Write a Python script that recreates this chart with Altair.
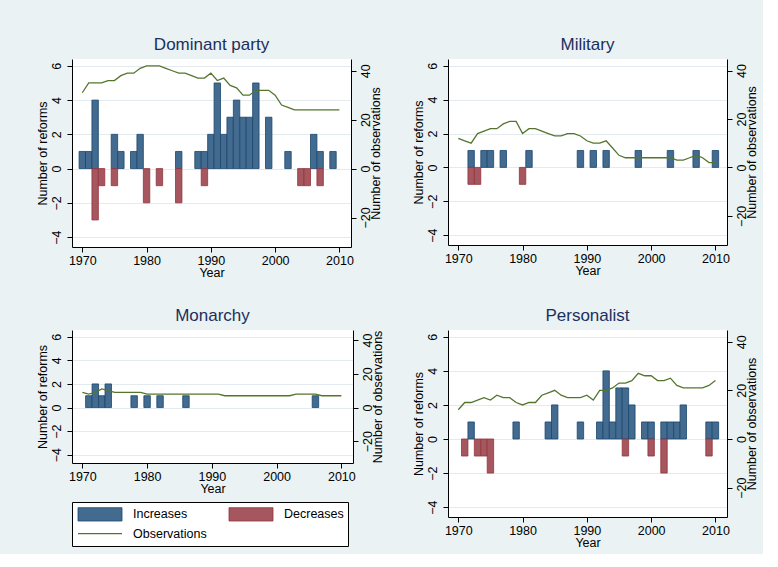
import altair as alt
import pandas as pd

YEARS = list(range(1970, 2011))

# Dominant party
dom_inc_year = [1970, 1971, 1972, 1975, 1976, 1978, 1979, 1985, 1988, 1989, 1990,
                1991, 1992, 1993, 1994, 1995, 1996, 1997, 1999, 2002, 2006, 2007, 2009]
dom_inc_val = [1, 1, 4, 2, 1, 1, 2, 1, 1, 1, 2, 5, 2, 3, 4, 3, 3, 5, 3, 1, 2, 1, 1]
dom_dec_year = [1972, 1973, 1975, 1980, 1982, 1985, 1989, 2004, 2005, 2007]
dom_dec_val = [-3, -1, -1, -2, -1, -2, -1, -1, -1, -1]
dom_obs = [31, 35, 35, 35, 36, 36, 38, 39, 39, 41,
           42, 42, 42, 41, 40, 39, 39, 38, 37, 37,
           39, 36, 37, 34, 33, 30, 30, 32, 32, 32,
           30, 26, 25, 24, 24, 24, 24, 24, 24, 24, 24]

# Military
mil_inc_year = [1972, 1974, 1975, 1977, 1981, 1989, 1991, 1993, 1998, 2003, 2007, 2010]
mil_inc_val = [1, 1, 1, 1, 1, 1, 1, 1, 1, 1, 1, 1]
mil_dec_year = [1972, 1973, 1980]
mil_dec_val = [-1, -1, -1]
mil_obs = [12, 11, 10, 14, 15, 16, 16, 18, 19, 19,
           14, 16, 16, 15, 14, 13, 13, 14, 14, 13,
           11, 10, 10, 11, 8, 5, 4, 4, 4, 4,
           4, 4, 4, 4, 3, 3, 4, 5, 4, 2, 2]

# Monarchy
mon_inc_year = [1971, 1972, 1973, 1974, 1978, 1980, 1982, 1986, 2006]
mon_inc_val = [1, 2, 1, 2, 1, 1, 1, 1, 1]
mon_dec_year = []
mon_dec_val = []
mon_obs = [9, 8, 9, 11, 10, 9, 9, 9, 9, 9,
           8, 8, 8, 8, 8, 8, 8, 8, 8, 8,
           8, 8, 7, 7, 7, 7, 7, 7, 7, 7,
           7, 7, 7, 8, 8, 8, 8, 7, 7, 7, 7]

# Personalist
per_inc_year = [1972, 1979, 1984, 1985, 1989, 1992, 1993, 1994, 1995, 1996,
                1997, 1999, 2000, 2002, 2003, 2004, 2005, 2009, 2010]
per_inc_val = [1, 1, 1, 2, 1, 1, 4, 1, 3, 3, 2, 1, 1, 1, 1, 1, 2, 1, 1]
per_dec_year = [1971, 1973, 1974, 1975, 1996, 2000, 2002, 2009]
per_dec_val = [-1, -1, -1, -2, -1, -1, -2, -1]
per_obs = [12, 15, 15, 16, 17, 16, 18, 17, 17, 15,
           14, 15, 15, 18, 19, 20, 18, 17, 17, 17,
           18, 16, 20, 20, 21, 23, 23, 24, 27, 26,
           26, 24, 24, 25, 22, 21, 21, 21, 21, 22, 24]

KINDS = ["Increases", "Decreases"]
LEGEND_LABELS = ["Increases", "Decreases", "Observations"]
LEGEND_COL = [0, 1, 0]
LEGEND_ROW = [0, 0, 1]

BLUE_FILL, BLUE_EDGE = "#436A8F", "#1A476F"
RED_FILL, RED_EDGE = "#A6565F", "#90353B"
GREEN = "#55752F"
BG = "#EAF2F3"
GRID = "#E3EBEE"
TITLE_COLOR = "#1C2F5E"
FONT = "Liberation Sans"

X_DOMAIN = [1968.4, 2011.8]
# left axis range per panel; the right axis is the same range scaled by 7
TALL_DOMAIN = [-4.58, 6.4]
SHORT_DOMAIN = [-4.7, 6.57]

fill_scale = alt.Scale(domain=KINDS, range=[BLUE_FILL, RED_FILL])
edge_scale = alt.Scale(domain=KINDS, range=[BLUE_EDGE, RED_EDGE])


def x_axis():
    return alt.Axis(values=[1970, 1980, 1990, 2000, 2010], format="d", title="Year",
                    grid=False, tickSize=5, labelPadding=2, titlePadding=0)


def panel(title, inc_year, inc_val, dec_year, dec_val, obs, width, height, left_domain):
    bars_df = pd.DataFrame(
        [{"year": y, "reforms": v, "kind": "Increases"} for y, v in zip(inc_year, inc_val)]
        + [{"year": y, "reforms": v, "kind": "Decreases"} for y, v in zip(dec_year, dec_val)],
        columns=["year", "reforms", "kind"],
    )
    obs_df = pd.DataFrame({"year": YEARS, "obs": obs})
    xscale = alt.Scale(domain=X_DOMAIN, nice=False, zero=False)
    right_domain = [v * 7 for v in left_domain]

    bars = alt.Chart(bars_df).transform_calculate(
        x0="datum.year - 0.5", x1="datum.year + 0.5", base="0"
    ).mark_rect(strokeWidth=0.8).encode(
        x=alt.X("x0:Q", scale=xscale, axis=x_axis()),
        x2="x1:Q",
        y=alt.Y("reforms:Q",
                scale=alt.Scale(domain=left_domain, nice=False, zero=False),
                axis=alt.Axis(values=[-4, -2, 0, 2, 4, 6], title="Number of reforms",
                              grid=True, gridColor=GRID, labelAngle=270, tickSize=5,
                              labelPadding=4, titlePadding=1)),
        y2="base:Q",
        fill=alt.Fill("kind:N", scale=fill_scale, legend=None),
        stroke=alt.Stroke("kind:N", scale=edge_scale, legend=None),
    )

    line = alt.Chart(obs_df).mark_line(color=GREEN, strokeWidth=1.3).encode(
        x=alt.X("year:Q", scale=xscale, axis=x_axis()),
        y=alt.Y("obs:Q",
                scale=alt.Scale(domain=right_domain, nice=False, zero=False),
                axis=alt.Axis(orient="right", values=[-20, 0, 20, 40],
                              title="Number of observations", titleAngle=270,
                              titleBaseline="top", labelAngle=270, grid=False,
                              tickSize=5, labelPadding=3, titlePadding=-2)),
    )

    return alt.layer(bars, line).resolve_scale(y="independent").properties(
        width=width, height=height,
        title=alt.TitleParams(title, fontSize=17, font=FONT, fontWeight="normal",
                              color=TITLE_COLOR, offset=5),
    )


dominant = panel("Dominant party", dom_inc_year, dom_inc_val, dom_dec_year, dom_dec_val,
                 dom_obs, 279, 188, TALL_DOMAIN)
military = panel("Military", mil_inc_year, mil_inc_val, mil_dec_year, mil_dec_val,
                 mil_obs, 279, 186, TALL_DOMAIN)
monarchy = panel("Monarchy", mon_inc_year, mon_inc_val, mon_dec_year, mon_dec_val,
                 mon_obs, 281, 133, SHORT_DOMAIN)
personalist = panel("Personalist", per_inc_year, per_inc_val, per_dec_year, per_dec_val,
                    per_obs, 279, 187, TALL_DOMAIN)

# Key box: two swatches on the first row, the line entry below
legend_df = pd.DataFrame({"label": LEGEND_LABELS, "col": LEGEND_COL, "row": LEGEND_ROW})
lx = alt.Scale(domain=[0, 276], nice=False, zero=False)
ly = alt.Scale(domain=[44, 0], nice=False, zero=False)
key = alt.Chart(legend_df).transform_calculate(
    x0="6 + 151 * datum.col", x1="50 + 151 * datum.col", tx="61 + 151 * datum.col",
    yc="12.3 + 19.4 * datum.row", ytop="5.7 + 19.4 * datum.row", ybot="19 + 19.4 * datum.row",
)
key_swatch = key.transform_filter(alt.FieldOneOfPredicate(field="label", oneOf=KINDS)).mark_rect(
    strokeWidth=0.8
).encode(
    x=alt.X("x0:Q", scale=lx, axis=None), x2="x1:Q",
    y=alt.Y("ytop:Q", scale=ly, axis=None), y2="ybot:Q",
    fill=alt.Fill("label:N", scale=fill_scale, legend=None),
    stroke=alt.Stroke("label:N", scale=edge_scale, legend=None),
)
key_line = key.transform_filter(alt.datum.label == "Observations").mark_rule(
    color=GREEN, strokeWidth=1.3
).encode(
    x=alt.X("x0:Q", scale=lx, axis=None), x2="x1:Q",
    y=alt.Y("yc:Q", scale=ly, axis=None),
)
key_text = key.mark_text(align="left", baseline="middle", fontSize=12.5, font=FONT,
                         color="black").encode(
    x=alt.X("tx:Q", scale=lx, axis=None),
    y=alt.Y("yc:Q", scale=ly, axis=None),
    text="label:N",
)
legend_box = alt.layer(key_swatch, key_line, key_text).properties(
    width=276, height=44,
    view=alt.ViewBackground(fill="white", stroke="black", strokeWidth=1),
)

left_col = alt.vconcat(dominant, alt.vconcat(monarchy, legend_box, spacing=6), spacing=28)
right_col = alt.vconcat(military, personalist, spacing=30)

chart = alt.hconcat(left_col, right_col, spacing=28).properties(
    padding={"left": 35, "top": 36, "right": 5, "bottom": 5},
).configure(
    background=BG,
).configure_view(
    fill="white", stroke=None,
).configure_axis(
    domainColor="black", tickColor="black", labelColor="black", titleColor="black",
    labelFont=FONT, titleFont=FONT, labelFontSize=12.5, titleFontSize=12.5,
    titleFontWeight="normal", domainWidth=1, tickWidth=1,
)

chart.save("out.html", embed_options={"renderer": "svg", "actions": False})
